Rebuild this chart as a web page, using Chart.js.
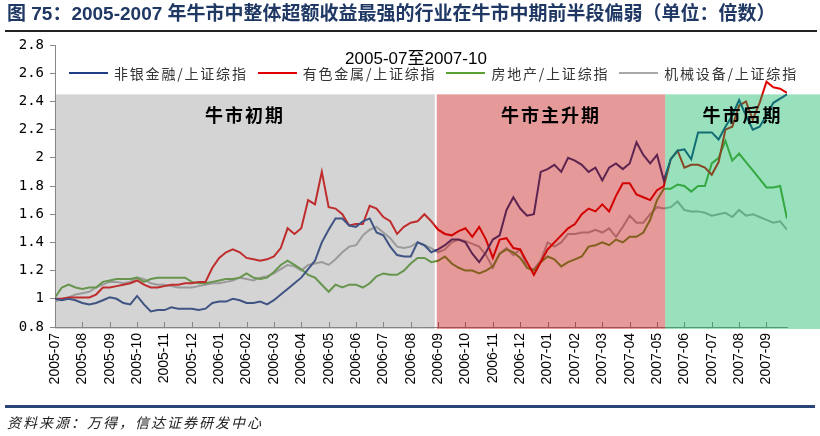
<!DOCTYPE html>
<html lang="zh-CN">
<head>
<meta charset="utf-8">
<title>2005-2007 年牛市行业超额收益</title>
<script src="https://cdn.jsdelivr.net/npm/chart.js@4.4.1/dist/chart.umd.min.js"></script>
<style>
    html, body { margin: 0; padding: 0; background: #fff; }
    body { width: 820px; height: 436px; position: relative; overflow: hidden; font-family: "Noto Sans CJK SC", sans-serif; }
    #wrap { position: absolute; left: 0; top: 0; width: 820px; height: 436px; }
    .title { position: absolute; left: 7px; top: 2px; line-height: 24px; font-size: 19px; font-weight: bold; color: #1f3864; white-space: nowrap; font-family: "Liberation Sans", "Noto Sans CJK SC", sans-serif; }
    .rule-top { position: absolute; left: 5px; right: 3px; top: 30px; height: 2px; background: #222; }
    .rule-bottom { position: absolute; left: 5px; right: 5px; top: 405px; height: 3px; background: #2b4576; }
    .source { position: absolute; left: 7px; top: 412px; line-height: 20px; font-size: 14px; font-style: italic; letter-spacing: 2px; color: #222; white-space: nowrap; }
    .subtitle { position: absolute; left: 416px; top: 48px; transform: translateX(-50%); font-size: 17px; line-height: 22px; color: #000; white-space: nowrap; font-family: "Liberation Sans", "Noto Sans CJK SC", sans-serif; }
    .legend { position: absolute; left: 69px; top: 63px; display: flex; gap: 10px; white-space: nowrap; }
    .legend .item { display: flex; align-items: center; font-size: 14px; line-height: 20px; letter-spacing: 1.8px; color: #333; }
    .legend .swatch { width: 39px; height: 2px; margin-right: 6px; }
</style>
</head>
<body>
<div id="wrap"><canvas id="chart" width="820" height="436"></canvas></div>
<div class="title">图 75：2005-2007 年牛市中整体超额收益最强的行业在牛市中期前半段偏弱（单位：倍数）</div>
<div class="rule-top"></div>
<div class="subtitle">2005-07至2007-10</div>
<div class="legend" id="legend"></div>
<div class="rule-bottom"></div>
<div class="source">资料来源：万得，信达证券研发中心</div>
<script>
'use strict';

// month labels on the x axis, one per month start
const MONTHS = [
    '2005-07', '2005-08', '2005-09', '2005-10', '2005-11', '2005-12',
    '2006-01', '2006-02', '2006-03', '2006-04', '2006-05', '2006-06',
    '2006-07', '2006-08', '2006-09', '2006-10', '2006-11', '2006-12',
    '2007-01', '2007-02', '2007-03', '2007-04', '2007-05', '2007-06',
    '2007-07', '2007-08', '2007-09'
];

// one sample every quarter month, relative strength vs 上证综指
const STEP = 0.25;

const nonBank = [
    1.00, 0.99, 1.00, 0.99, 0.97, 0.96, 0.97, 0.99, 1.01, 1.00, 0.97, 0.96,
    1.02, 0.96, 0.91, 0.92, 0.92, 0.94, 0.93, 0.93, 0.93, 0.92, 0.93, 0.97,
    0.98, 0.98, 1.00, 0.99, 0.97, 0.97, 0.98, 0.96, 0.99, 1.03, 1.07, 1.11,
    1.15, 1.21, 1.27, 1.40, 1.49, 1.57, 1.57, 1.52, 1.51, 1.55, 1.57, 1.47,
    1.45, 1.37, 1.31, 1.30, 1.30, 1.40, 1.38, 1.33, 1.35, 1.38, 1.42, 1.42,
    1.40, 1.32, 1.26, 1.33, 1.42, 1.45, 1.63, 1.72, 1.64, 1.59, 1.60, 1.90,
    1.92, 1.95, 1.90, 2.00, 1.98, 1.95, 1.90, 1.93, 1.84, 1.93, 1.96, 1.92,
    1.96, 2.11, 2.02, 1.96, 2.02, 1.84, 1.99, 2.05, 2.06, 1.99, 2.18, 2.18,
    2.18, 2.13, 2.22, 2.30, 2.41, 2.30, 2.20, 2.22, 2.30, 2.39, 2.42, 2.45
];

const metals = [
    1.00, 1.00, 1.01, 1.01, 1.01, 1.01, 1.03, 1.08, 1.08, 1.09, 1.10, 1.11,
    1.13, 1.10, 1.08, 1.08, 1.09, 1.10, 1.10, 1.11, 1.11, 1.12, 1.12, 1.22,
    1.29, 1.33, 1.35, 1.33, 1.29, 1.28, 1.27, 1.28, 1.30, 1.36, 1.50, 1.46,
    1.50, 1.70, 1.67, 1.90, 1.65, 1.64, 1.60, 1.52, 1.53, 1.53, 1.66, 1.64,
    1.58, 1.55, 1.46, 1.51, 1.54, 1.55, 1.60, 1.55, 1.49, 1.46, 1.45, 1.48,
    1.50, 1.44, 1.51, 1.42, 1.29, 1.42, 1.43, 1.36, 1.35, 1.26, 1.17, 1.26,
    1.35, 1.40, 1.45, 1.50, 1.53, 1.60, 1.64, 1.62, 1.67, 1.62, 1.73, 1.82,
    1.82, 1.74, 1.72, 1.70, 1.77, 1.80, 1.99, 2.05, 1.93, 1.95, 1.95, 1.93,
    1.88, 1.97, 2.20, 2.22, 2.37, 2.40, 2.27, 2.39, 2.54, 2.50, 2.49, 2.46
];

const realty = [
    1.01, 1.08, 1.10, 1.08, 1.07, 1.08, 1.08, 1.12, 1.13, 1.14, 1.14, 1.14,
    1.15, 1.12, 1.14, 1.15, 1.15, 1.15, 1.15, 1.15, 1.12, 1.11, 1.11, 1.12,
    1.13, 1.14, 1.14, 1.15, 1.18, 1.15, 1.14, 1.15, 1.19, 1.24, 1.27, 1.24,
    1.21, 1.17, 1.15, 1.10, 1.05, 1.10, 1.08, 1.10, 1.10, 1.08, 1.11, 1.16,
    1.18, 1.17, 1.17, 1.20, 1.25, 1.29, 1.29, 1.26, 1.27, 1.30, 1.25, 1.22,
    1.20, 1.20, 1.18, 1.20, 1.23, 1.32, 1.35, 1.33, 1.29, 1.22, 1.20, 1.26,
    1.30, 1.28, 1.23, 1.26, 1.28, 1.30, 1.37, 1.38, 1.40, 1.38, 1.42, 1.40,
    1.44, 1.44, 1.47, 1.56, 1.70, 1.78, 1.78, 1.81, 1.80, 1.76, 1.80, 1.80,
    1.96, 2.00, 2.12, 1.98, 2.03, 1.97, 1.91, 1.85, 1.79, 1.79, 1.80, 1.57
];

const machinery = [
    0.98, 1.00, 1.01, 1.03, 1.04, 1.05, 1.08, 1.10, 1.12, 1.12, 1.11, 1.12,
    1.15, 1.14, 1.11, 1.10, 1.10, 1.09, 1.08, 1.08, 1.08, 1.09, 1.10, 1.11,
    1.11, 1.12, 1.13, 1.15, 1.14, 1.13, 1.15, 1.16, 1.18, 1.21, 1.24, 1.23,
    1.20, 1.24, 1.25, 1.26, 1.24, 1.28, 1.33, 1.37, 1.38, 1.45, 1.49, 1.51,
    1.47, 1.43, 1.37, 1.36, 1.37, 1.40, 1.38, 1.36, 1.33, 1.35, 1.40, 1.42,
    1.41, 1.39, 1.37, 1.31, 1.22, 1.32, 1.36, 1.31, 1.35, 1.22, 1.21, 1.27,
    1.40, 1.37, 1.40, 1.46, 1.46, 1.47, 1.47, 1.49, 1.47, 1.50, 1.44, 1.51,
    1.59, 1.54, 1.54, 1.60, 1.65, 1.64, 1.65, 1.69, 1.63, 1.62, 1.62, 1.61,
    1.59, 1.60, 1.61, 1.58, 1.63, 1.59, 1.60, 1.58, 1.56, 1.54, 1.55, 1.49
];

const SERIES_NAMES = ['非银金融/上证综指', '有色金属/上证综指', '房地产/上证综指', '机械设备/上证综指'];

// bull market phases, in months from 2005-07
const PHASE_NAMES = ['牛市初期', '牛市主升期', '牛市后期'];
const PHASE_SPANS = [[0, 13.88], [13.95, 22.3], [22.3, 28]];
const PHASE_TOP = 2.45;

const COLORS = ['#1f3d85', '#e00000', '#5aa032', '#a8a8a8'];
const PHASE_FILLS = ['rgba(128,128,128,0.34)', 'rgba(190,0,0,0.4)', 'rgba(0,180,90,0.4)'];
const AXIS = '#888';

function toPoints(values) {
    return values.map((v, i) => ({ x: i * STEP, y: v }));
}

function buildLegend() {
    let $legend = document.getElementById('legend');
    SERIES_NAMES.forEach((name, i) => {
        let $item = document.createElement('div');
        $item.className = 'item';
        let $swatch = document.createElement('span');
        $swatch.className = 'swatch';
        $swatch.style.background = COLORS[i];
        let $text = document.createElement('span');
        $text.textContent = name;
        $item.append($swatch, $text);
        $legend.appendChild($item);
    });
}

// shaded phases sit on top of the lines, like the original overlay
const phasePlugin = {
    id: 'phases',
    beforeDatasetsDraw(chart) {
        let { ctx, chartArea, scales } = chart;
        ctx.save();
        ctx.strokeStyle = AXIS;
        ctx.lineWidth = 1;
        scales.x.ticks.forEach((tick, i) => {
            let px = Math.round(scales.x.getPixelForTick(i)) + 0.5;
            ctx.beginPath();
            ctx.moveTo(px, chartArea.bottom);
            ctx.lineTo(px, chartArea.bottom - 5);
            ctx.stroke();
        });
        ctx.restore();
    },
    afterDatasetsDraw(chart) {
        let { ctx, chartArea, scales } = chart;
        let top = scales.y.getPixelForValue(PHASE_TOP);
        let bottom = chartArea.bottom + 2;
        ctx.save();
        PHASE_SPANS.forEach((span, i) => {
            let left = scales.x.getPixelForValue(span[0]);
            let right = scales.x.getPixelForValue(span[1]);
            ctx.fillStyle = PHASE_FILLS[i];
            ctx.fillRect(left, top, right - left, bottom - top);
        });
        ctx.fillStyle = '#000';
        ctx.font = 'bold 18px "Noto Sans CJK SC"';
        ctx.textAlign = 'center';
        ctx.textBaseline = 'middle';
        ctx.letterSpacing = '2px';
        PHASE_SPANS.forEach((span, i) => {
            let left = scales.x.getPixelForValue(span[0]);
            let right = Math.min(scales.x.getPixelForValue(span[1]), chart.width);
            ctx.fillText(PHASE_NAMES[i], (left + right) / 2, top + 21);
        });
        ctx.restore();
    }
};

function renderChart() {
    let series = [nonBank, metals, realty, machinery];
    new Chart(document.getElementById('chart'), {
        type: 'line',
        data: {
            datasets: series.map((values, i) => ({
                label: SERIES_NAMES[i],
                data: toPoints(values),
                borderColor: COLORS[i],
                backgroundColor: COLORS[i],
                borderWidth: 2,
                pointRadius: 0,
                tension: 0
            }))
        },
        options: {
            responsive: false,
            animation: false,
            layout: { padding: { left: 0, right: 33, top: 45, bottom: 49 } },
            plugins: { legend: { display: false }, tooltip: { enabled: false } },
            scales: {
                x: {
                    type: 'linear',
                    min: 0,
                    max: 26.75,
                    grid: { drawOnChartArea: false, drawTicks: false },
                    border: { color: AXIS },
                    ticks: {
                        stepSize: 1,
                        includeBounds: false,
                        autoSkip: false,
                        minRotation: 90,
                        maxRotation: 90,
                        padding: 6,
                        color: '#000',
                        font: { family: '"Liberation Sans", Arial, sans-serif', size: 14 },
                        callback: value => MONTHS[value] ?? ''
                    },
                    afterFit: scale => { scale.height = 60; }
                },
                y: {
                    min: 0.8,
                    max: 2.8,
                    grid: { drawOnChartArea: false, tickLength: 5, color: AXIS },
                    border: { color: AXIS },
                    ticks: {
                        stepSize: 0.2,
                        padding: 6,
                        color: '#000',
                        font: { family: '"DejaVu Sans Mono", monospace', size: 14 },
                        callback: value => String(parseFloat(value.toFixed(1)))
                    },
                    afterFit: scale => { scale.width = 55; }
                }
            }
        },
        plugins: [phasePlugin]
    });
}

buildLegend();
renderChart();
</script>
</body>
</html>
